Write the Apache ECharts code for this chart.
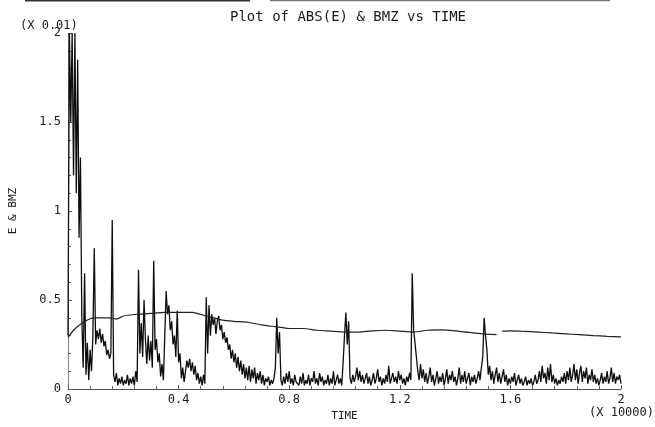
<!DOCTYPE html>
<html>
<head>
<meta charset="utf-8">
<script src="https://cdn.jsdelivr.net/npm/echarts@6/dist/echarts.min.js"></script>
<style>
  html, body { margin: 0; padding: 0; background: #fff; }
  #chart { width: 655px; height: 427px; }
</style>
</head>
<body>
<div id="chart"></div>
<script>
// ABS(E): sampled every 0.005 (x 10000) time units, starting at 0
const eStart = 0;
const eStep = 0.005;
const eValues = [
  // 0.0 - 0.1
  0.30, 2.00, 1.50, 2.00, 1.20, 2.00, 1.10, 1.85, 0.85, 1.30, 0.40, 0.12, 0.65, 0.08, 0.26, 0.05, 0.22, 0.10, 0.30, 0.79,
  // 0.1 - 0.2
  0.25, 0.33, 0.28, 0.34, 0.26, 0.31, 0.24, 0.27, 0.19, 0.22, 0.17, 0.20, 0.95, 0.08, 0.04, 0.09, 0.02, 0.06, 0.03, 0.07,
  // 0.2 - 0.3
  0.02, 0.05, 0.03, 0.08, 0.02, 0.06, 0.03, 0.07, 0.02, 0.10, 0.04, 0.67, 0.20, 0.37, 0.18, 0.50, 0.28, 0.14, 0.30, 0.16,
  // 0.3 - 0.4
  0.27, 0.12, 0.72, 0.22, 0.28, 0.15, 0.20, 0.07, 0.14, 0.05, 0.30, 0.55, 0.42, 0.47, 0.33, 0.38, 0.25, 0.30, 0.18, 0.44,
  // 0.4 - 0.5
  0.15, 0.20, 0.06, 0.12, 0.04, 0.10, 0.16, 0.12, 0.17, 0.10, 0.15, 0.08, 0.13, 0.05, 0.09, 0.03, 0.07, 0.02, 0.08, 0.03,
  // 0.5 - 0.6
  0.515, 0.20, 0.47, 0.30, 0.42, 0.36, 0.40, 0.31, 0.38, 0.41, 0.33, 0.36, 0.28, 0.32, 0.26, 0.29, 0.22, 0.25, 0.17, 0.22,
  // 0.6 - 0.7
  0.15, 0.20, 0.12, 0.18, 0.10, 0.16, 0.08, 0.14, 0.06, 0.12, 0.05, 0.13, 0.04, 0.11, 0.06, 0.12, 0.03, 0.09, 0.05, 0.10,
  // 0.7 - 0.8
  0.03, 0.08, 0.02, 0.06, 0.04, 0.07, 0.02, 0.05, 0.03, 0.06, 0.12, 0.40, 0.20, 0.32, 0.05, 0.02, 0.07, 0.03, 0.09, 0.04,
  // 0.8 - 0.9
  0.10, 0.03, 0.06, 0.02, 0.08, 0.04, 0.05, 0.02, 0.07, 0.03, 0.09, 0.02, 0.05, 0.03, 0.08, 0.02, 0.06, 0.04, 0.10, 0.03,
  // 0.9 - 1.0
  0.06, 0.02, 0.09, 0.04, 0.07, 0.02, 0.05, 0.03, 0.08, 0.02, 0.06, 0.03, 0.10, 0.02, 0.05, 0.08, 0.03, 0.06, 0.02, 0.15,
  // 1.0 - 1.1
  0.30, 0.43, 0.25, 0.38, 0.06, 0.03, 0.08, 0.04, 0.07, 0.12, 0.05, 0.10, 0.04, 0.08, 0.03, 0.06, 0.09, 0.03, 0.07, 0.02,
  // 1.1 - 1.2
  0.05, 0.09, 0.03, 0.06, 0.11, 0.04, 0.07, 0.02, 0.06, 0.03, 0.08, 0.04, 0.13, 0.03, 0.06, 0.09, 0.04, 0.07, 0.03, 0.10,
  // 1.2 - 1.3
  0.05, 0.08, 0.03, 0.06, 0.02, 0.07, 0.04, 0.09, 0.05, 0.65, 0.33, 0.26, 0.18, 0.10, 0.05, 0.14, 0.06, 0.11, 0.04, 0.09,
  // 1.3 - 1.4
  0.03, 0.07, 0.12, 0.04, 0.08, 0.02, 0.06, 0.10, 0.03, 0.07, 0.04, 0.09, 0.02, 0.06, 0.11, 0.03, 0.08, 0.05, 0.10, 0.04,
  // 1.4 - 1.5
  0.07, 0.02, 0.06, 0.12, 0.03, 0.08, 0.04, 0.10, 0.03, 0.06, 0.09, 0.02, 0.07, 0.04, 0.08, 0.03, 0.06, 0.10, 0.05, 0.12,
  // 1.5 - 1.6
  0.18, 0.40, 0.30, 0.22, 0.08, 0.13, 0.05, 0.10, 0.03, 0.08, 0.12, 0.04, 0.09, 0.03, 0.07, 0.11, 0.04, 0.08, 0.02, 0.06,
  // 1.6 - 1.7
  0.03, 0.07, 0.04, 0.09, 0.02, 0.05, 0.08, 0.03, 0.06, 0.02, 0.04, 0.07, 0.02, 0.05, 0.03, 0.06, 0.02, 0.04, 0.08, 0.03,
  // 1.7 - 1.8
  0.05, 0.10, 0.04, 0.13, 0.06, 0.09, 0.03, 0.12, 0.05, 0.14, 0.04, 0.08, 0.03, 0.06, 0.02, 0.05, 0.03, 0.07, 0.04, 0.09,
  // 1.8 - 1.9
  0.03, 0.10, 0.05, 0.12, 0.04, 0.08, 0.14, 0.05, 0.11, 0.03, 0.09, 0.13, 0.04, 0.10, 0.06, 0.12, 0.03, 0.08, 0.05, 0.11,
  // 1.9 - 2.0
  0.04, 0.08, 0.03, 0.06, 0.02, 0.05, 0.09, 0.03, 0.07, 0.04, 0.10, 0.03, 0.06, 0.12, 0.04, 0.09, 0.03, 0.07, 0.05, 0.08,
  0.03
];

// BMZ: slowly varying curve (null marks the break in the trace)
const bmzTime = [0, 0.02, 0.05, 0.08, 0.1, 0.15, 0.175, 0.2, 0.25, 0.3, 0.35, 0.4, 0.45, 0.5, 0.55, 0.6, 0.65, 0.7, 0.75, 0.8,
  0.85, 0.9, 0.95, 1.0, 1.05, 1.1, 1.15, 1.2, 1.25, 1.3, 1.35, 1.4, 1.45, 1.5, 1.55, 1.56, 1.57, 1.6, 1.65, 1.7, 1.75, 1.8,
  1.85, 1.9, 1.95, 2.0];
const bmzValue = [0.29, 0.33, 0.37, 0.395, 0.40, 0.40, 0.393, 0.41, 0.42, 0.425, 0.43, 0.43, 0.43, 0.41, 0.39, 0.38, 0.375, 0.36, 0.35, 0.34,
  0.34, 0.33, 0.325, 0.32, 0.32, 0.327, 0.33, 0.325, 0.32, 0.33, 0.332, 0.327, 0.318, 0.31, 0.305, null, 0.325, 0.327, 0.324, 0.32, 0.315, 0.31,
  0.305, 0.30, 0.296, 0.293];

// Axis ticks
const xTicks = { min: 0, max: 2, interval: 0.4 };
const yTicks = { min: 0, max: 2, interval: 0.5 };

const eData = eValues.map((v, i) => [+(eStart + i * eStep).toFixed(3), v]);
const bmzData = bmzTime.map((t, i) => [t, bmzValue[i]]);

const mono = '"DejaVu Sans Mono", "Liberation Mono", monospace';
const ink = '#1a1a1a';

const chart = echarts.init(document.getElementById('chart'), null, { renderer: 'canvas' });
chart.setOption({
  backgroundColor: '#fff',
  animation: false,
  title: [
    { text: 'Plot of ABS(E) & BMZ vs TIME', left: 343, top: 5, textAlign: 'center',
      textStyle: { fontFamily: mono, fontSize: 14, fontWeight: 'normal', color: ink } },
    { text: '(X 0.01)', left: 15, top: 15,
      textStyle: { fontFamily: mono, fontSize: 12, fontWeight: 'normal', color: ink } },
    { text: '(X 10000)', left: 584, top: 402,
      textStyle: { fontFamily: mono, fontSize: 12, fontWeight: 'normal', color: ink } }
  ],
  grid: { left: 66, right: 34, top: 33, bottom: 37, containLabel: false },
  xAxis: {
    type: 'value', min: xTicks.min, max: xTicks.max, interval: xTicks.interval,
    name: 'TIME', nameLocation: 'middle', nameGap: 22,
    nameTextStyle: { fontFamily: mono, fontSize: 11, color: ink },
    axisLine: { show: true, lineStyle: { color: '#555', width: 1 } },
    axisTick: { show: true, inside: true, length: 4, lineStyle: { color: '#555' } },
    minorTick: { show: true, splitNumber: 5, length: 3, lineStyle: { color: '#666' } },
    splitLine: { show: false },
    axisLabel: { fontFamily: mono, fontSize: 12, color: ink, margin: 5 }
  },
  yAxis: {
    type: 'value', min: yTicks.min, max: yTicks.max, interval: yTicks.interval,
    name: 'E & BMZ', nameLocation: 'middle', nameGap: 49, nameRotate: 90,
    nameTextStyle: { fontFamily: mono, fontSize: 11, color: ink },
    axisLine: { show: true, lineStyle: { color: '#666', width: 1, type: 'dotted' } },
    axisTick: { show: true, inside: true, length: 4, lineStyle: { color: '#555' } },
    minorTick: { show: true, splitNumber: 5, length: 3, lineStyle: { color: '#666' } },
    splitLine: { show: false },
    axisLabel: { fontFamily: mono, fontSize: 12, color: ink, margin: 7 }
  },
  graphic: [
    { type: 'line', shape: { x1: 25, y1: 0.5, x2: 250, y2: 0.5 }, style: { stroke: '#333', lineWidth: 2 } },
    { type: 'line', shape: { x1: 270, y1: 0.5, x2: 610, y2: 0.5 }, style: { stroke: '#777', lineWidth: 1.5 } }
  ],
  series: [
    {
      name: 'ABS(E)', type: 'line', data: eData, showSymbol: false, clip: true,
      lineStyle: { color: '#0d0d0d', width: 1.3 }, z: 3
    },
    {
      name: 'BMZ', type: 'line', data: bmzData, showSymbol: false, smooth: 0.2, connectNulls: false,
      lineStyle: { color: '#222', width: 1.2 }, z: 4
    }
  ]
});
</script>
</body>
</html>
